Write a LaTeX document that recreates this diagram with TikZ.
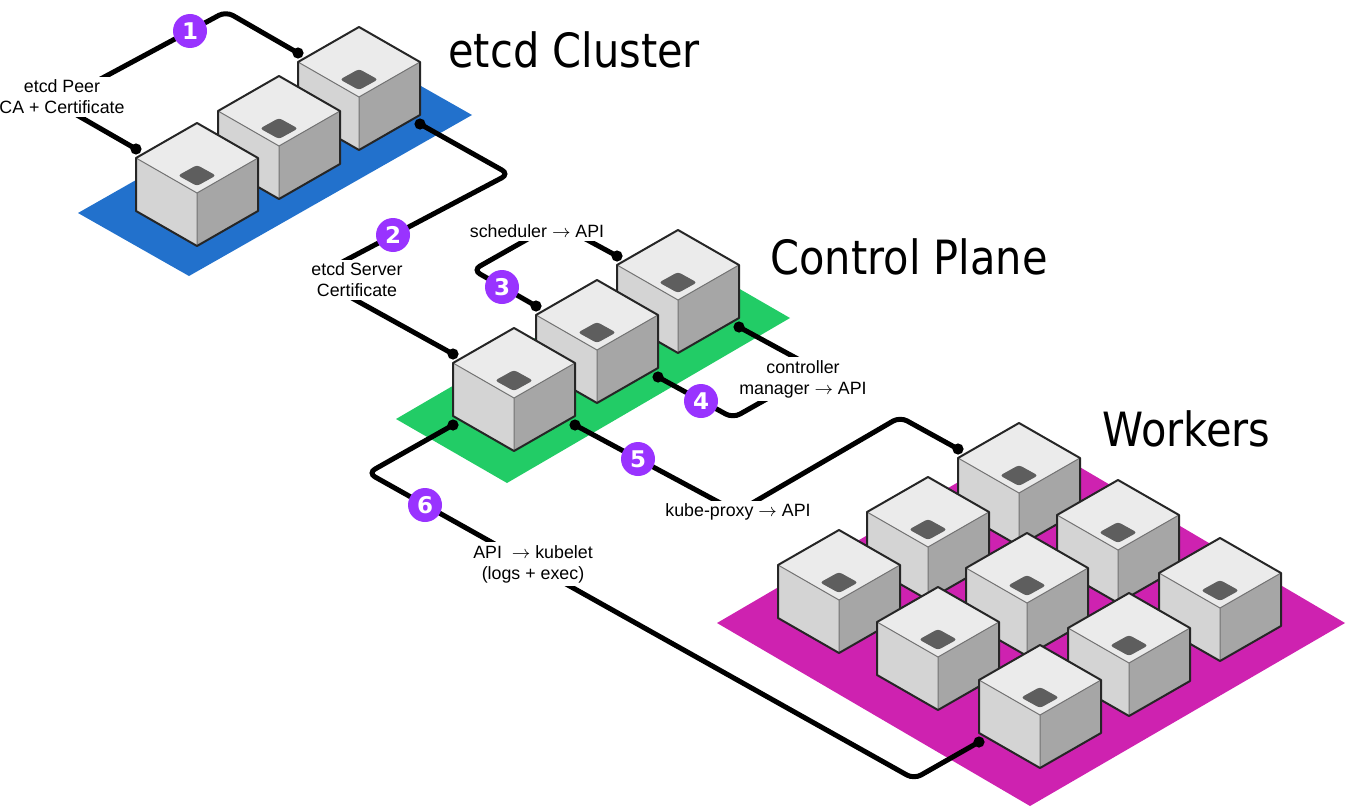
\documentclass[tikz,border=0pt]{standalone}
\usepackage{fontspec}
\setmainfont{Liberation Sans}
\newfontfamily\headfont[FakeStretch=0.88]{DejaVu Sans}
\newfontfamily\badgefont{DejaVu Sans}

\definecolor{etcdblue}{RGB}{34,113,204}
\definecolor{planegreen}{RGB}{34,204,102}
\definecolor{workerpink}{RGB}{206,34,176}
\definecolor{badgepurple}{RGB}{153,51,255}

\tikzset{
  topface/.style={fill=black!8},
  leftface/.style={fill=black!17},
  rightface/.style={fill=black!35},
  inner edge/.style={draw=black!55, line width=0.5pt},
  outer edge/.style={draw=black!85, line width=1pt, line join=round},
  chip/.style={fill=black!63, rounded corners=1.5pt}
}
\newcommand{\server}[3]{
    \begin{scope}[shift={(#2,#3)}]
        \fill[topface] (0,0) -- (-61,-35) -- (0,-70) -- (61,-35) -- cycle;
        \fill[leftface] (0,0) -- (-61,-35) -- (-61,18) -- (0,53) -- cycle;
        \fill[rightface] (0,0) -- (61,-35) -- (61,18) -- (0,53) -- cycle;
        \draw[inner edge] (-61,-35) -- (0,0) -- (61,-35) (0,0) -- (0,53);
        \draw[outer edge] (0,-70) -- (61,-35) -- (61,18) -- (0,53) -- (-61,18) -- (-61,-35) -- cycle;
        \fill[chip] (0,-28) -- (19,-17.5) -- (0,-7) -- (-19,-17.5) -- cycle;
        \coordinate (#1-lt) at (-61,-44);
        \coordinate (#1-rb) at (61,27);
        \coordinate (#1-lb) at (-61,27);
    \end{scope}
}

\begin{document}
\begin{tikzpicture}[x=0.5pt, y=-0.5pt]
        \tikzstyle{wire}=[line width=2.5pt, rounded corners=4pt]
        \tikzstyle{badge}=[circle, fill=badgepurple, text=white, minimum size=17pt, inner sep=0pt, font=\badgefont\bfseries\fontsize{11.5}{12}\selectfont]
        \tikzstyle{note}=[fill=white, inner xsep=2.5pt, inner ysep=1.5pt, align=center, font=\fontsize{8.9}{10.5}\selectfont]
        \tikzstyle{heading}=[anchor=base west, inner sep=0pt, font=\headfont\fontsize{23.6}{26}\selectfont]

        \useasboundingbox (0,0) rectangle (1347,808);

        % planes
        \fill[etcdblue] (78,213) -- (189,276) -- (472,115) -- (361,52) -- cycle;
        \fill[planegreen] (396,419) -- (507,483) -- (790,318) -- (679,254) -- cycle;
        \fill[workerpink] (717,623) -- (1030,806) -- (1345,623) -- (1032,439) -- cycle;

        % servers, back to front
        \server{E_3}{359}{97}
        \server{E_2}{279}{146}
        \server{E_1}{197}{193}
        \server{C_3}{678}{300}
        \server{C_2}{597}{350}
        \server{C_1}{514}{398}
        \foreach \n/\x/\y in {W_1/1019/493, W_2/928/547, W_3/1118/550, W_4/839/600, W_5/1027/603,
                W_6/1220/608, W_7/938/657, W_8/1129/663, W_9/1040/715} {\server{\n}{\x}{\y}}

        \draw[wire] (E_1-lt) -- (56,103) -- (226,11.5) -- (E_3-lt);
        \draw[wire] (E_3-rb) -- (509,174) -- (314,277) -- (C_1-lt);
        \draw[wire] (C_2-lt) -- (473,270) -- (556,223) -- (C_3-lt);
        \draw[wire] (C_2-rb) -- (733,418) -- (818,370) -- (C_3-rb);
        \draw[wire] (C_1-rb) -- (737,512) -- (900,417) -- (W_1-lt);
        \draw[wire] (C_1-lb) -- (368,473) -- (914,779) -- (W_9-lb);
        \foreach \p in {E_1-lt, E_3-lt, E_3-rb, C_1-lt, C_2-lt, C_3-lt, C_2-rb, C_3-rb, C_1-rb, W_1-lt, C_1-lb, W_9-lb}
            \fill (\p) circle (2.8pt);

        \node[note] (L_1) at (62,97) {etcd Peer\\CA + Certificate};
        \node[note] (L_2) at (357,280) {etcd Server\\Certificate};
        \node[note] (L_3) at (537,231) {scheduler \(\rightarrow\) API};
        \node[note] (L_4) at (803,379) {controller\\manager \(\rightarrow\) API};
        \node[note] (L_5) at (738,512) {kube-proxy \(\rightarrow\) API};
        \node[note] (L_6) at (533,564) {API\ \ \(\rightarrow\) kubelet\\(logs + exec)};

        \node[badge] (N_1) at (190,31) {1};
        \node[badge] (N_2) at (393,235) {2};
        \node[badge] (N_3) at (502,287) {3};
        \node[badge] (N_4) at (701,401) {4};
        \node[badge] (N_5) at (638,459) {5};
        \node[badge] (N_6) at (425,505) {6};

        \node[heading] (H_etcd) at (448,68) {etcd Cluster};
        \node[heading] (H_ctrl) at (770,274) {Control Plane};
        \node[heading] (H_work) at (1102,446) {Workers};
\end{tikzpicture}
\end{document}
